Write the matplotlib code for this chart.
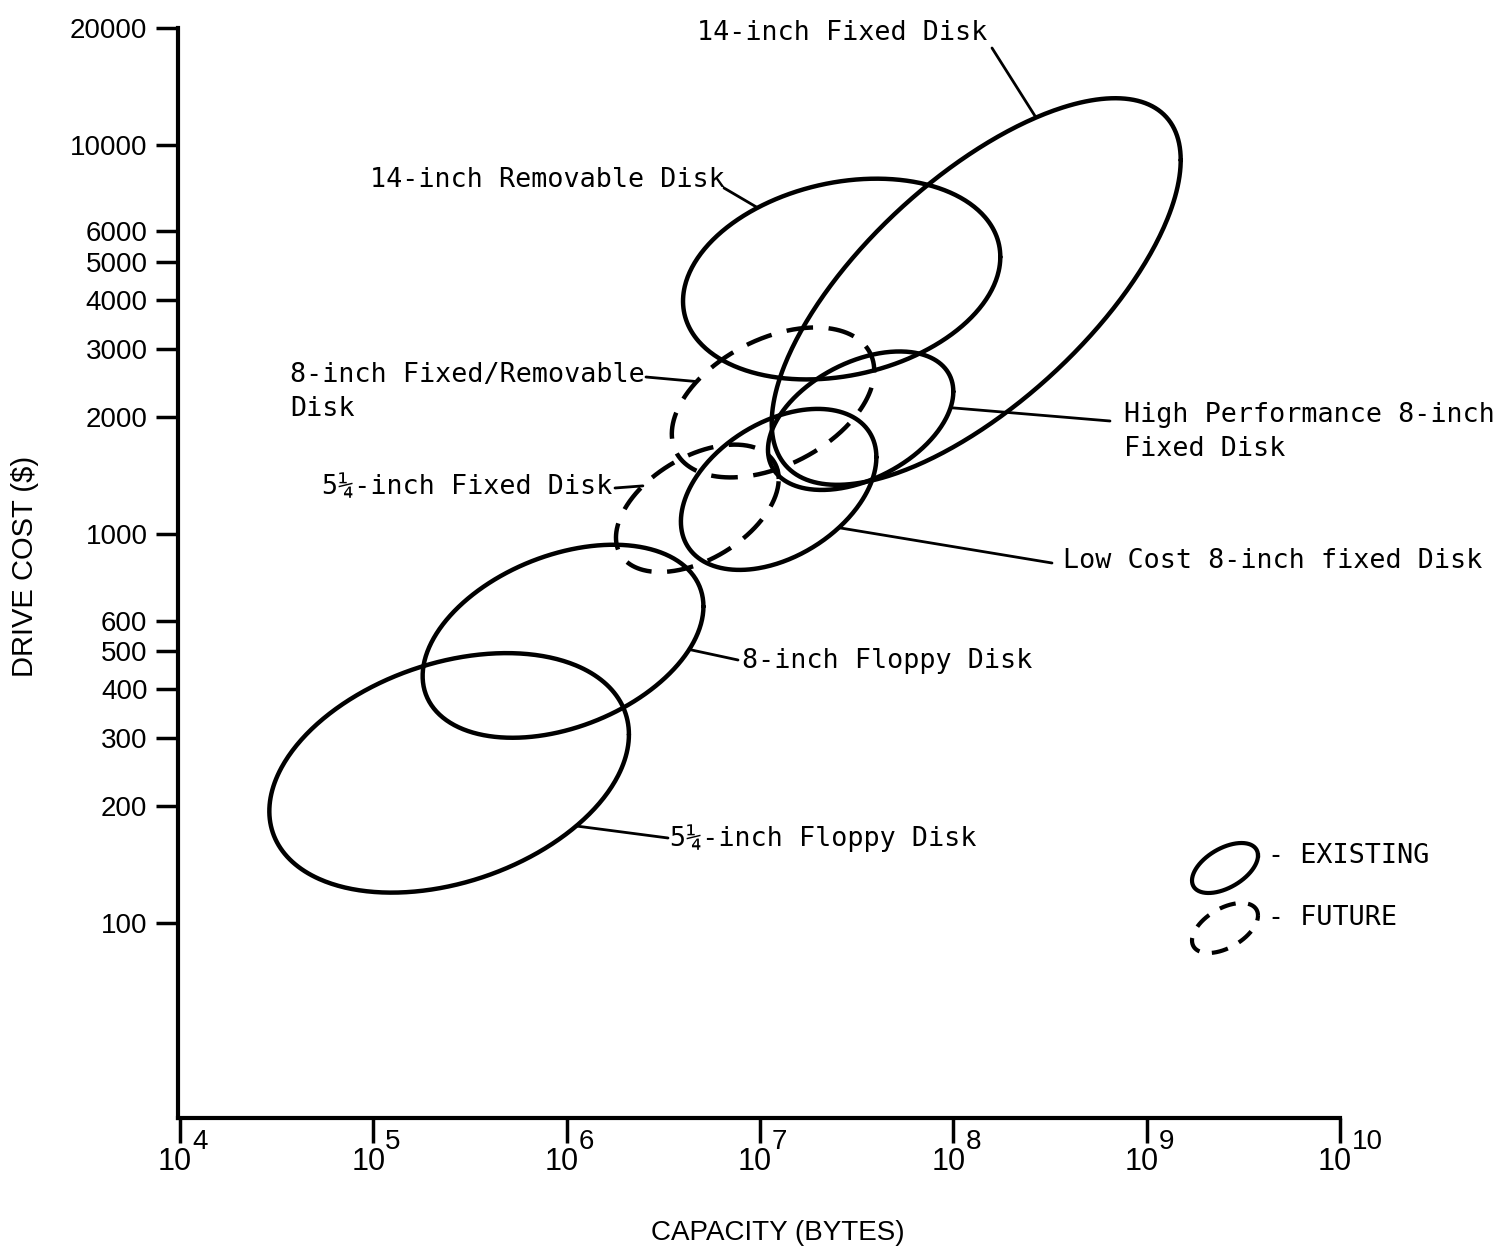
import numpy as np
import matplotlib
matplotlib.use("Agg")
import matplotlib.pyplot as plt

# disk families: capacity range (bytes), drive cost range ($), tilt of the outline
names = [["5¼-inch Floppy Disk"],
         ["8-inch Floppy Disk"],
         ["5¼-inch Fixed Disk"],
         ["8-inch Fixed/Removable", "Disk"],
         ["Low Cost 8-inch fixed Disk"],
         ["High Performance 8-inch", "Fixed Disk"],
         ["14-inch Removable Disk"],
         ["14-inch Fixed Disk"]]
cap_lo = [2.9e4, 1.8e5, 1.8e6, 3.5e6, 3.9e6, 1.1e7, 4.0e6, 1.15e7]
cap_hi = [2.1e6, 5.1e6, 1.25e7, 3.9e7, 4.0e7, 1.0e8, 1.75e8, 1.5e9]
cost_lo = [120, 300, 800, 1400, 810, 1300, 2500, 1340]
cost_hi = [495, 940, 1700, 3400, 2100, 2950, 8200, 13200]
tilt = [0.32, 0.36, 0.46, 0.42, 0.40, 0.42, 0.22, 0.68]
future = [False, False, True, True, False, False, False, False]

yticks = [100, 200, 300, 400, 500, 600, 1000, 2000, 3000, 4000, 5000, 6000, 10000, 20000]
xexp = [4, 5, 6, 7, 8, 9, 10]

# where each leader line meets its outline (angle on the outline, deg)
# and where the label sits (figure pixels from top-left)
leader_t = [-45, -26, 132, 139, -52, -14, 122, 73]
label_xy = [(670, 838, "left"), (742, 661, "left"), (612, 487, "right"),
            (290, 375, "left"), (1063, 561, "left"), (1124, 415, "left"),
            (370, 180, "left"), (697, 33, "left")]
leader_start = [(668, 838), (738, 660), (615, 488), (646, 377),
                (1052, 563), (1110, 421), (724, 188), (992, 48)]

W, H = 1501, 1260
MONO = "DejaVu Sans Mono"
SANS = "Liberation Sans"


def fx(px):
    return px / W


def fy(py):
    return 1 - py / H


def outline(i, t):
    lx = np.log10([cap_lo[i], cap_hi[i]])
    ly = np.log10([cost_lo[i], cost_hi[i]])
    cx, w = lx.mean(), (lx[1] - lx[0]) / 2
    cy, h = ly.mean(), (ly[1] - ly[0]) / 2
    r = tilt[i]
    x = cx + w * np.cos(t)
    y = cy + h * (r * np.cos(t) + np.sqrt(1 - r * r) * np.sin(t))
    return 10 ** x, 10 ** y


fig = plt.figure(figsize=(W / 100, H / 100), dpi=100)
ax = fig.add_axes([fx(178), fy(1118), (1340 - 178) / W, (1118 - 28) / H])
ax.set_xscale("log")
ax.set_yscale("log")
ax.set_xlim(10 ** 3.99, 1e10)
ax.set_ylim(10 ** 1.5, 20000)

for s in ["top", "right"]:
    ax.spines[s].set_visible(False)
for s in ["left", "bottom"]:
    ax.spines[s].set_linewidth(3)

ax.set_yticks(yticks)
ax.set_yticklabels([str(v) for v in yticks], fontfamily=SANS, fontsize=20)
ax.yaxis.set_minor_locator(matplotlib.ticker.NullLocator())
ax.xaxis.set_minor_locator(matplotlib.ticker.NullLocator())
ax.set_xticks([10.0 ** e for e in xexp])
ax.set_xticklabels([])
ax.tick_params(axis="y", length=16, width=2.5, pad=6)
ax.tick_params(axis="x", length=18, width=2.5)

# x tick labels drawn as "10" with a raised exponent
for e in xexp:
    ax.annotate("10", xy=(10.0 ** e, 0), xycoords=("data", "axes fraction"),
                xytext=(12, -44), textcoords="offset pixels",
                ha="right", va="center", fontfamily=SANS, fontsize=22)
    ax.annotate(str(e), xy=(10.0 ** e, 0), xycoords=("data", "axes fraction"),
                xytext=(12, -24), textcoords="offset pixels",
                ha="left", va="center", fontfamily=SANS, fontsize=20)

t = np.linspace(0, 2 * np.pi, 400)
for i in range(len(names)):
    x, y = outline(i, t)
    ls = (0, (6, 3.5)) if future[i] else "-"
    ax.plot(x, y, color="black", lw=3.2, ls=ls, solid_capstyle="round")

    px, py = outline(i, np.radians(leader_t[i]))
    sx, sy = leader_start[i]
    ax.annotate("", xy=(px, py), xycoords="data",
                xytext=(fx(sx), fy(sy)), textcoords="figure fraction",
                arrowprops=dict(arrowstyle="-", lw=2, color="black",
                                shrinkA=0, shrinkB=0))
    lx, ly, ha = label_xy[i]
    for k, line in enumerate(names[i]):
        fig.text(fx(lx), fy(ly + 34 * k), line, ha=ha, va="center",
                 fontfamily=MONO, fontsize=19.3)

# key: solid = existing, dashed = future
tk = np.linspace(0, 2 * np.pi, 200)
for cy, dashed, text in [(868, False, "- EXISTING"), (928, True, "- FUTURE")]:
    gx = 1225 + 33 * np.cos(tk)
    gy = cy - 25 * (0.5 * np.cos(tk) + np.sqrt(1 - 0.25) * np.sin(tk))
    fig.add_artist(plt.Line2D(fx(gx), fy(gy), color="black", lw=3,
                              ls=(0, (4, 3)) if dashed else "-",
                              transform=fig.transFigure))
    fig.text(fx(1268), fy(cy - 12 if not dashed else cy - 10), text,
             ha="left", va="center", fontfamily=MONO, fontsize=19.3)

fig.text(fx(25), fy(566), "DRIVE COST ($)", rotation=90, ha="center",
         va="center", fontfamily=SANS, fontsize=21)
fig.text(fx(778), fy(1233), "CAPACITY (BYTES)", ha="center", va="center",
         fontfamily=SANS, fontsize=20)

fig.savefig("out.png", dpi=100, facecolor="white")
